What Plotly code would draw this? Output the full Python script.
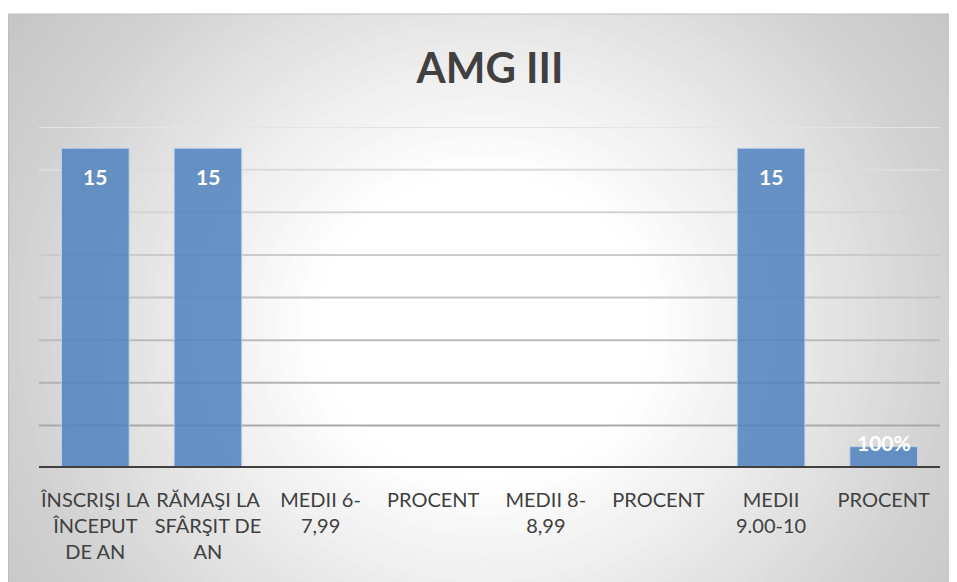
import plotly.graph_objects as go

# ---- data ----
categories = [
    "ÎNSCRIŞI LA<br>ÎNCEPUT<br>DE AN",
    "RĂMAŞI LA<br>SFÂRŞIT DE<br>AN",
    "MEDII 6-<br>7,99",
    "PROCENT",
    "MEDII 8-<br>8,99",
    "PROCENT",
    "MEDII<br>9.00-10",
    "PROCENT",
]
values = [15, 15, 0, 0, 0, 0, 15, 1]
value_labels = ["15", "15", "", "", "", "", "15", "100%"]
y_ticks = [0, 2, 4, 6, 8, 10, 12, 14, 16]
title_text = "AMG III"

# page body adds an 8px margin, so the figure is slightly smaller than the window
W, H = 949, 574
FONT = "Lato, 'Liberation Sans', Arial, sans-serif"
plot_x0, plot_x1 = 31, 932
plot_top, plot_bottom = 119, 460
chart_top = 6
y_max = 16

x_idx = list(range(len(categories)))


def px(x):
    return x / W


def py(y):
    return 1 - y / H


fig = go.Figure()

fig.add_trace(go.Bar(
    x=x_idx, y=values, width=0.6,
    marker=dict(color="rgba(79,129,189,0.85)",
                line=dict(color="rgba(190,210,235,0.9)", width=1)),
    hoverinfo="skip", showlegend=False,
))

px_per_unit = (plot_bottom - plot_top) / y_max
annotations = []
for i, (v, lab) in enumerate(zip(values, value_labels)):
    if not lab:
        continue
    big = v * px_per_unit > 40
    annotations.append(dict(
        x=i, y=v, xref="x", yref="y", text="<b>%s</b>" % lab, showarrow=False,
        yanchor="middle", yshift=-28 if big else 4,
        font=dict(family=FONT, size=21, color="white"),
    ))

shapes = []
# radial background gradient (stack of circles, light centre, grey edges)
cx, cy = 476, 318
stops = [(0, 255), (170, 255), (290, 238), (470, 210), (620, 194)]


def grey_at(d):
    for (d0, g0), (d1, g1) in zip(stops, stops[1:]):
        if d <= d1:
            return g0 + (g1 - g0) * (d - d0) / (d1 - d0)
    return stops[-1][1]


n_steps = 60
for k in range(n_steps, 0, -1):
    r = 620 * k / n_steps
    g = int(round(grey_at(r)))
    ry = r * 0.92
    shapes.append(dict(type="circle", xref="paper", yref="paper",
                       x0=px(cx - r), x1=px(cx + r), y0=py(cy + ry), y1=py(cy - ry),
                       fillcolor="rgb(%d,%d,%d)" % (g, g, g), line=dict(width=0), layer="below"))
# white strip above the chart box
shapes.append(dict(type="rect", xref="paper", yref="paper", x0=0, x1=1, y0=py(chart_top), y1=1.05,
                   fillcolor="white", line=dict(width=0), layer="below"))
# gridlines: darker toward the bottom
for t in y_ticks[1:]:
    frac = t / y_max
    g = int(round(0xa2 + (0xe4 - 0xa2) * frac))
    shapes.append(dict(type="line", xref="x domain", yref="y", x0=0, x1=1, y0=t, y1=t,
                       line=dict(color="rgb(%d,%d,%d)" % (g, g, g), width=2), layer="below"))
# baseline
shapes.append(dict(type="line", xref="x domain", yref="y", x0=0, x1=1, y0=0, y1=0,
                   line=dict(color="#404040", width=4), layer="above"))
# chart border
shapes.append(dict(type="rect", xref="paper", yref="paper",
                   x0=px(0.5), x1=1.01, y0=-0.01, y1=py(chart_top),
                   line=dict(color="#bdbdbd", width=1), fillcolor="rgba(0,0,0,0)", layer="above"))

fig.update_layout(
    width=W, height=H, autosize=False,
    margin=dict(l=0, r=0, t=0, b=0),
    paper_bgcolor="white", plot_bgcolor="rgba(0,0,0,0)",
    title=dict(text="<b>%s</b>" % title_text, x=px(482), xanchor="center",
               y=py(60), yanchor="middle", xref="paper", yref="paper",
               font=dict(family=FONT, size=42, color="#404040")),
    xaxis=dict(domain=[px(plot_x0), px(plot_x1)], range=[-0.5, len(categories) - 0.5],
               tickmode="array", tickvals=x_idx, ticktext=categories,
               showgrid=False, zeroline=False, showline=False, ticks="",
               ticklabelstandoff=18, fixedrange=True,
               tickfont=dict(family=FONT, size=20, color="#404040"), tickangle=0),
    yaxis=dict(domain=[py(plot_bottom), py(plot_top)], range=[0, y_max],
               tickvals=y_ticks, showticklabels=False, showgrid=False, zeroline=False,
               showline=False, fixedrange=True),
    bargap=0.4,
    annotations=annotations,
    shapes=shapes,
)

fig.write_html("out.html")
